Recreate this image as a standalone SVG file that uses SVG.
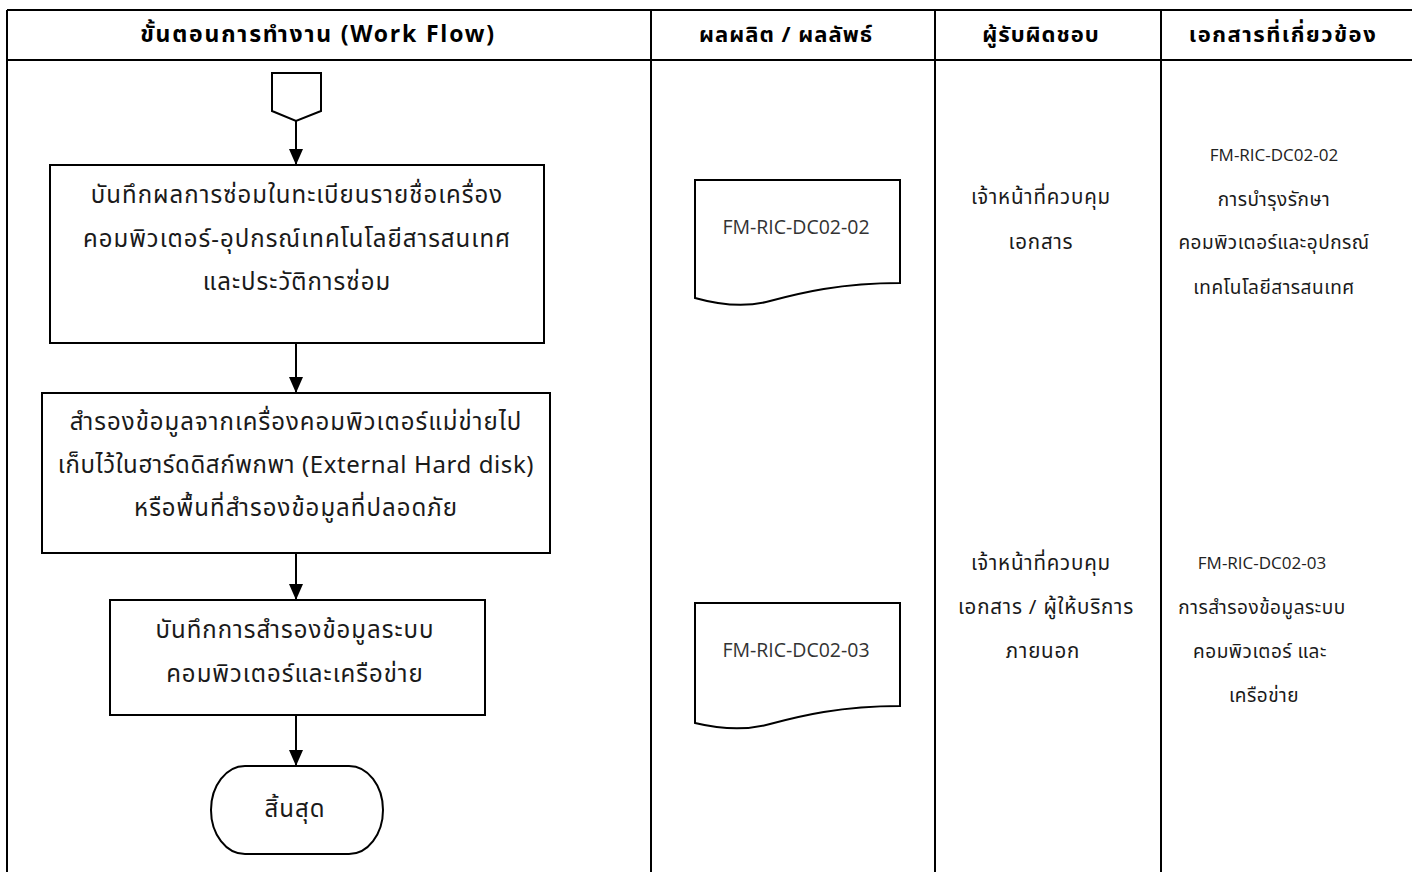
<svg xmlns="http://www.w3.org/2000/svg" width="1412" height="872" viewBox="0 0 1412 872">
<defs>
<style>
.grid{stroke:#000;stroke-width:2;fill:none}
.box{fill:#fff;stroke:#000;stroke-width:2}
.conn{stroke:#000;stroke-width:2;fill:none}
.hd{font-family:"Noto Sans Thai","Noto Sans","DejaVu Sans",sans-serif;font-size:22px;font-weight:bold;letter-spacing:1px;fill:#000;text-anchor:middle}
.t{font-family:"Noto Sans Thai","Noto Sans","DejaVu Sans",sans-serif;font-size:24px;letter-spacing:1px;fill:#1a1a1a;text-anchor:middle}
.s{font-family:"Noto Sans Thai","Noto Sans","DejaVu Sans",sans-serif;font-size:19px;letter-spacing:0.5px;fill:#1a1a1a;text-anchor:middle}
.r{font-family:"Noto Sans Thai","Noto Sans","DejaVu Sans",sans-serif;font-size:20.5px;letter-spacing:0.8px;fill:#1a1a1a;text-anchor:middle}
.l{font-family:"Open Sans","Noto Sans",sans-serif;font-size:17px;fill:#222;text-anchor:middle}
.d{font-family:"Open Sans","Noto Sans",sans-serif;font-size:19.5px;fill:#333;text-anchor:middle}
</style>
<marker id="ah" markerWidth="16" markerHeight="14" refX="16" refY="7" orient="auto" markerUnits="userSpaceOnUse" viewBox="0 0 16 14">
<path d="M0,0 L16,7 L0,14 Z" fill="#000"/>
</marker>
</defs>
<rect width="1412" height="872" fill="#fff"/>
<g id="table">
<path class="grid" d="M7,10 H1412 M7,60 H1412 M7,10 V872 M651,10 V872 M935,10 V872 M1161,10 V872"/>
<text class="hd" x="318" y="42" style="font-size:23px;letter-spacing:1.8px">ขั้นตอนการทำงาน (Work Flow)</text>
<text class="hd" x="786" y="42">ผลผลิต / ผลลัพธ์</text>
<text class="hd" x="1041" y="42">ผู้รับผิดชอบ</text>
<text class="hd" x="1283" y="42" style="letter-spacing:1.5px">เอกสารที่เกี่ยวข้อง</text>
</g>
<g id="connectors">
<line class="conn" x1="296" y1="121" x2="296" y2="165" marker-end="url(#ah)"/>
<line class="conn" x1="296" y1="343" x2="296" y2="393" marker-end="url(#ah)"/>
<line class="conn" x1="296" y1="553" x2="296" y2="600" marker-end="url(#ah)"/>
<line class="conn" x1="296" y1="715" x2="296" y2="766" marker-end="url(#ah)"/>
</g>
<g id="start">
<path class="box" d="M272,73 H321 V111 L296,121 L272,111 Z"/>
</g>
<g id="step1">
<rect class="box" x="50" y="165" width="494" height="178"/>
<text class="t" x="297" y="203">บันทึกผลการซ่อมในทะเบียนรายชื่อเครื่อง</text>
<text class="t" x="297" y="247">คอมพิวเตอร์-อุปกรณ์เทคโนโลยีสารสนเทศ</text>
<text class="t" x="297" y="290">และประวัติการซ่อม</text>
</g>
<g id="step2">
<rect class="box" x="42" y="393" width="508" height="160"/>
<text class="t" x="296" y="430">สำรองข้อมูลจากเครื่องคอมพิวเตอร์แม่ข่ายไป</text>
<text class="t" x="296" y="473" style="letter-spacing:0.6px">เก็บไว้ในฮาร์ดดิสก์พกพา (External Hard disk)</text>
<text class="t" x="296" y="516">หรือพื้นที่สำรองข้อมูลที่ปลอดภัย</text>
</g>
<g id="step3">
<rect class="box" x="110" y="600" width="375" height="115"/>
<text class="t" x="295" y="638">บันทึกการสำรองข้อมูลระบบ</text>
<text class="t" x="295" y="682">คอมพิวเตอร์และเครือข่าย</text>
</g>
<g id="end">
<rect class="box" x="211" y="766" width="172" height="88" rx="34" ry="44"/>
<text class="t" x="295" y="817">สิ้นสุด</text>
</g>
<g id="doc1">
<path class="box" d="M695,180 H900 V283 C840,283 800,293 770,301 C745,308 720,305 695,298 Z"/>
<text class="d" x="796" y="234">FM-RIC-DC02-02</text>
</g>
<g id="doc2">
<path class="box" d="M695,603 H900 V706 C840,706 800,716 770,724 C745,731 720,729 695,723 Z"/>
<text class="d" x="796" y="657">FM-RIC-DC02-03</text>
</g>
<g id="resp1">
<text class="r" x="1041" y="204">เจ้าหน้าที่ควบคุม</text>
<text class="r" x="1041" y="249">เอกสาร</text>
</g>
<g id="resp2">
<text class="r" x="1041" y="570">เจ้าหน้าที่ควบคุม</text>
<text class="r" x="1046" y="614">เอกสาร / ผู้ให้บริการ</text>
<text class="r" x="1043" y="658">ภายนอก</text>
</g>
<g id="ref1">
<text class="l" x="1274" y="161">FM-RIC-DC02-02</text>
<text class="s" x="1274" y="206">การบำรุงรักษา</text>
<text class="s" x="1274" y="249">คอมพิวเตอร์และอุปกรณ์</text>
<text class="s" x="1274" y="294">เทคโนโลยีสารสนเทศ</text>
</g>
<g id="ref2">
<text class="l" x="1262" y="569">FM-RIC-DC02-03</text>
<text class="s" x="1262" y="614">การสำรองข้อมูลระบบ</text>
<text class="s" x="1260" y="658">คอมพิวเตอร์ และ</text>
<text class="s" x="1264" y="702">เครือข่าย</text>
</g>
</svg>
